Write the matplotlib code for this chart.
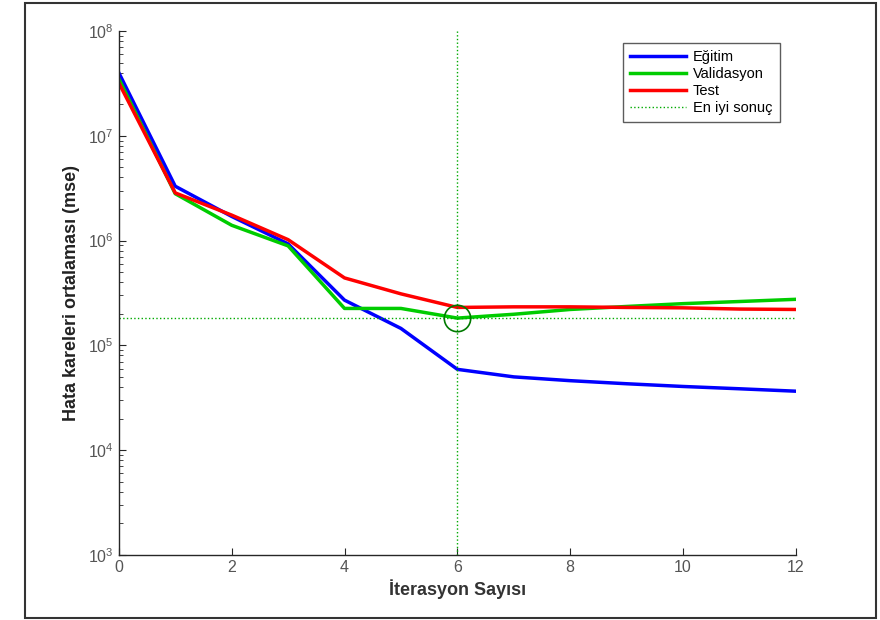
import matplotlib
matplotlib.use('Agg')
import matplotlib.pyplot as plt
from matplotlib.patches import Rectangle

plt.rcParams['font.family'] = ['Liberation Sans', 'DejaVu Sans']

# epochs and mse per set
epochs = list(range(13))
egitim = [4.0e7, 3.3e6, 1.7e6, 9.3e5, 2.7e5, 1.45e5, 5.9e4, 5.0e4, 4.6e4, 4.3e4, 4.05e4, 3.85e4, 3.65e4]
validasyon = [3.5e7, 2.8e6, 1.4e6, 8.9e5, 2.25e5, 2.25e5, 1.82e5, 1.98e5, 2.2e5, 2.35e5, 2.5e5, 2.62e5, 2.75e5]
test = [3.2e7, 2.85e6, 1.75e6, 1.02e6, 4.4e5, 3.1e5, 2.3e5, 2.33e5, 2.33e5, 2.3e5, 2.28e5, 2.22e5, 2.2e5]
best_epoch = 6
best_val = 1.82e5

fig = plt.figure(figsize=(8.8, 6.2), dpi=100)
fig.patches.append(Rectangle((25 / 880, 1 - 618 / 620), 851 / 880, 615 / 620,
                             transform=fig.transFigure, fill=False,
                             edgecolor='#333333', linewidth=1.5))
ax = fig.add_axes([0.135, 0.105, 0.7695, 0.845])

ax.plot(epochs, egitim, color='#0000ff', linewidth=2.5, label='Eğitim')
ax.plot(epochs, validasyon, color='#00cc00', linewidth=2.5, label='Validasyon')
ax.plot(epochs, test, color='#ff0000', linewidth=2.5, label='Test')
ax.axhline(best_val, color='#00aa00', linestyle=':', linewidth=1, label='En iyi sonuç')
ax.axvline(best_epoch, color='#00aa00', linestyle=':', linewidth=1)
ax.plot([best_epoch], [best_val], 'o', markersize=19, markerfacecolor='none',
        markeredgecolor='#007a00', markeredgewidth=1.2)

ax.set_yscale('log')
ax.set_ylim(1e3, 1e8)
ax.set_xlim(0, 12)
ax.set_xticks([0, 2, 4, 6, 8, 10, 12])

for s in ['top', 'right']:
    ax.spines[s].set_visible(False)
for s in ['left', 'bottom']:
    ax.spines[s].set_color('#262626')
    ax.spines[s].set_linewidth(1.0)
ax.tick_params(direction='in', which='major', length=5, colors='#262626',
               labelcolor='#555555', labelsize=11.5)
ax.tick_params(direction='in', which='minor', length=3, colors='#262626')

ax.set_xlabel('İterasyon Sayısı', fontsize=13, fontweight='bold', color='#333333', labelpad=3)
ax.set_ylabel('Hata kareleri ortalaması (mse)', fontsize=13, fontweight='bold', color='#222222', labelpad=6)

leg = ax.legend(loc='upper right', bbox_to_anchor=(0.976, 0.977), borderaxespad=0,
                fontsize=10.5, handlelength=3.8, frameon=True, fancybox=False,
                borderpad=0.5, labelspacing=0.2, handletextpad=0.5)
leg.get_frame().set_edgecolor('#333333')
leg.get_frame().set_linewidth(1.0)

fig.savefig('out.png', dpi=100)
